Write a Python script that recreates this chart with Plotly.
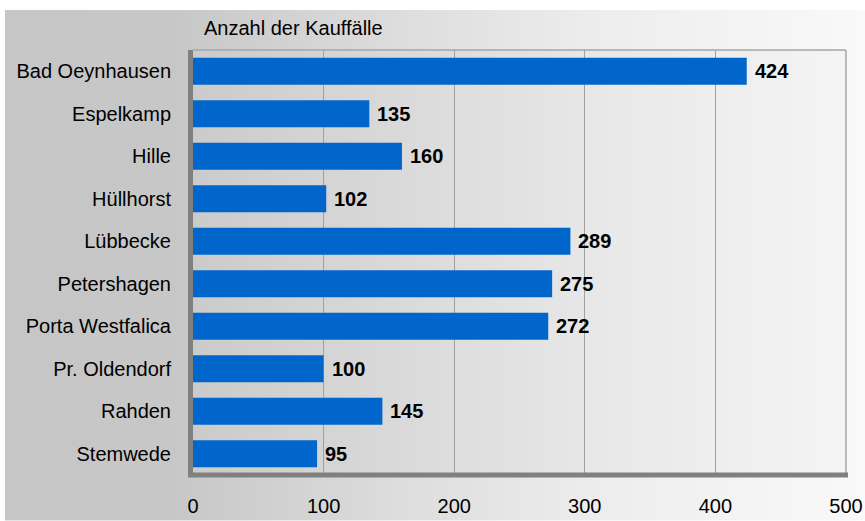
import base64
import struct
import zlib

import plotly.graph_objects as go

# ---- data ----
categories = ["Bad Oeynhausen", "Espelkamp", "Hille", "Hüllhorst", "Lübbecke",
              "Petershagen", "Porta Westfalica", "Pr. Oldendorf", "Rahden", "Stemwede"]
values = [424, 135, 160, 102, 289, 275, 272, 100, 145, 95]
x_ticks = [0, 100, 200, 300, 400, 500]
title_text = "Anzahl der Kauffälle"

# ---- layout geometry (pixels) ----
W, H = 865, 521
PL, PR, PT, PB = 193, 846, 50, 475.5  # plot area edges


def px_x(px):
    return (px - PL) / (PR - PL)


def px_y(py):
    return (PB - py) / (PB - PT)


def gradient_png(stops, width=256, height=2):
    """Horizontal grey gradient PNG as data URI; stops = [(frac, grey)]."""
    row = bytearray([0])
    for i in range(width):
        f = i / (width - 1)
        v = stops[-1][1]
        for j in range(len(stops) - 1):
            f0, v0 = stops[j]
            f1, v1 = stops[j + 1]
            if f0 <= f <= f1:
                t = (f - f0) / (f1 - f0) if f1 > f0 else 0
                v = int(round(v0 + (v1 - v0) * t))
                break
        row += bytes([v, v, v])
    raw = bytes(row) * height

    def chunk(tag, data):
        return (struct.pack(">I", len(data)) + tag + data +
                struct.pack(">I", zlib.crc32(tag + data) & 0xFFFFFFFF))

    png = (b"\x89PNG\r\n\x1a\n" +
           chunk(b"IHDR", struct.pack(">IIBBBBB", width, height, 8, 2, 0, 0, 0)) +
           chunk(b"IDAT", zlib.compress(raw)) +
           chunk(b"IEND", b""))
    return "data:image/png;base64," + base64.b64encode(png).decode()


# outer background gradient (x from 5 to 865, y from 10 to 521)
ox0, ox1, oy0, oy1 = 5, 865, 10, 521
outer_stops = [(0.0, 198), ((170 - ox0) / (ox1 - ox0), 199),
               ((400 - ox0) / (ox1 - ox0), 221), ((600 - ox0) / (ox1 - ox0), 237),
               (1.0, 249)]
inner_stops = [(0.0, 203), ((350 - PL) / (PR - PL), 214),
               ((600 - PL) / (PR - PL), 232), (1.0, 244)]

images = [
    dict(source=gradient_png(outer_stops), xref="paper", yref="paper",
         x=px_x(ox0), y=px_y(oy0), sizex=px_x(ox1) - px_x(ox0),
         sizey=px_y(oy0) - px_y(oy1), sizing="stretch", layer="below",
         xanchor="left", yanchor="top"),
    dict(source=gradient_png(inner_stops), xref="paper", yref="paper",
         x=0, y=1, sizex=1, sizey=1, sizing="stretch", layer="below",
         xanchor="left", yanchor="top"),
]

FONT = "Liberation Sans, Arial, sans-serif"

fig = go.Figure(go.Bar(
    x=values, y=categories, orientation="h",
    marker=dict(color="#0066cc", line=dict(width=0)),
    hoverinfo="x+y",
))

annotations = [
    dict(x=v, y=c, xref="x", yref="y", text=f"<b>{v}</b>", showarrow=False,
         xanchor="left", yanchor="middle", xshift=6,
         font=dict(family=FONT, size=20, color="#000000"))
    for c, v in zip(categories, values)
]
annotations.append(dict(
    x=px_x(202), y=px_y(28), xref="paper", yref="paper", text=title_text,
    showarrow=False, xanchor="left", yanchor="middle",
    font=dict(family=FONT, size=20, color="#000000")))

shapes = [
    # top border
    dict(type="line", xref="paper", yref="paper", x0=0, x1=1, y0=1, y1=1,
         line=dict(color="#a6a6a6", width=1.5)),
    # right border
    dict(type="line", xref="paper", yref="paper", x0=1, x1=1, y0=0, y1=1,
         line=dict(color="#a6a6a6", width=1.5)),
    # bottom axis line
    dict(type="line", xref="paper", yref="paper", x0=px_x(188), x1=px_x(848),
         y0=0, y1=0, line=dict(color="#808080", width=5)),
]

fig.update_layout(
    width=W, height=H,
    margin=dict(l=PL, r=W - PR, t=PT, b=H - PB, pad=0, autoexpand=False),
    paper_bgcolor="#ffffff",
    plot_bgcolor="rgba(0,0,0,0)",
    bargap=0.37,
    showlegend=False,
    images=images,
    annotations=annotations,
    shapes=shapes,
    font=dict(family=FONT, size=20, color="#000000"),
    xaxis=dict(
        range=[0, 500], tickvals=x_ticks, ticktext=[str(t) for t in x_ticks],
        showgrid=True, gridcolor="#a0a0a0", gridwidth=1,
        zeroline=False, showline=False, ticks="", ticklabelstandoff=17,
        ticklabeloverflow="allow", automargin=False,
        tickfont=dict(family=FONT, size=20, color="#000000"),
        fixedrange=True,
    ),
    yaxis=dict(
        categoryorder="array", categoryarray=categories, autorange="reversed",
        showgrid=False, zeroline=False, showline=True, linecolor="#808080",
        linewidth=5, ticks="", ticklabelstandoff=13, automargin=False,
        tickfont=dict(family=FONT, size=20, color="#000000"),
        fixedrange=True,
    ),
)

fig.write_html(
    "out.html",
    config={"displayModeBar": False},
    post_script="document.body.style.margin='0';document.body.style.overflow='hidden';",
)
